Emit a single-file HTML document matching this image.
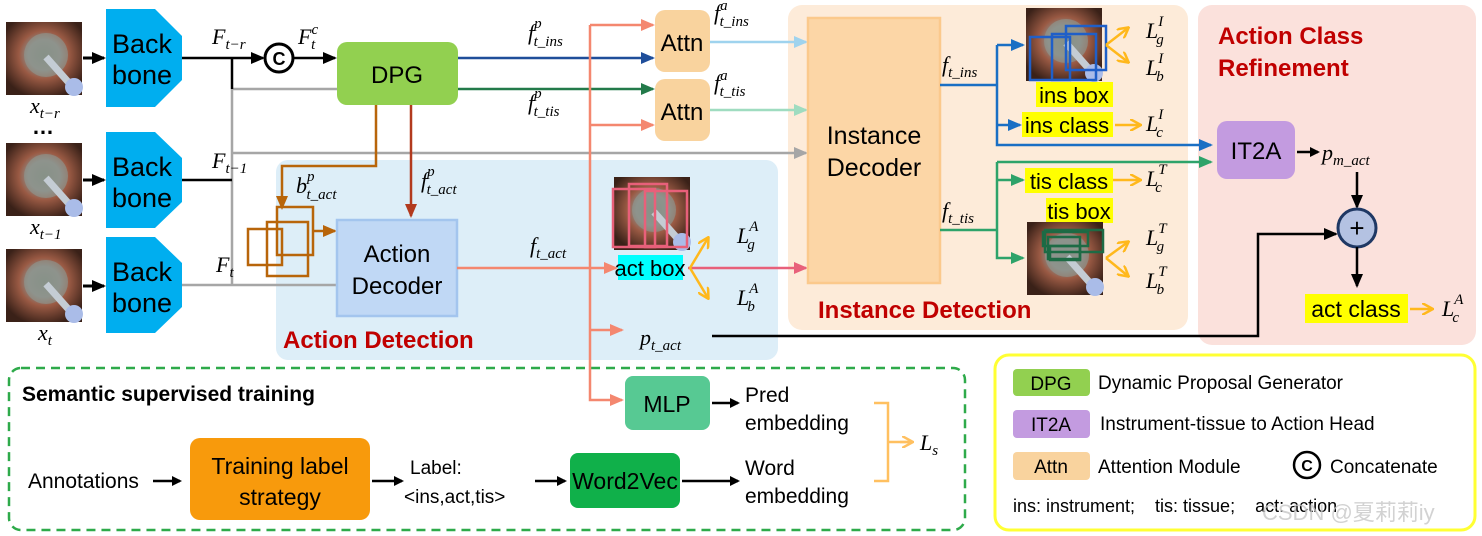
<!DOCTYPE html>
<html><head><meta charset="utf-8"><style>
html,body{margin:0;padding:0;background:#fff;}
svg{display:block;}
.s{font-family:"Liberation Sans",sans-serif;}
.m{font-family:"Liberation Serif",serif;font-style:italic;}
</style></head><body>
<svg width="1482" height="536" viewBox="0 0 1482 536" xmlns="http://www.w3.org/2000/svg">
<defs>
<radialGradient id="eye" cx="0.5" cy="0.45" r="0.6">
<stop offset="0" stop-color="#7d8678"/><stop offset="0.35" stop-color="#8f8a84"/><stop offset="0.55" stop-color="#9a5a44"/><stop offset="1" stop-color="#3a2118"/>
</radialGradient>
<marker id="ak" markerWidth="10" markerHeight="10" refX="8" refY="5" orient="auto" markerUnits="userSpaceOnUse"><path d="M0,0 L10,5 L0,10z" fill="#000"/></marker>
<marker id="ag" markerWidth="14" markerHeight="12" refX="12" refY="6" orient="auto" markerUnits="userSpaceOnUse"><path d="M0,0 L14,6 L0,12z" fill="#a6a6a6"/></marker>
<marker id="asal" markerWidth="14" markerHeight="12" refX="12" refY="6" orient="auto" markerUnits="userSpaceOnUse"><path d="M0,0 L14,6 L0,12z" fill="#f4876f"/></marker>
<marker id="ab" markerWidth="14" markerHeight="12" refX="12" refY="6" orient="auto" markerUnits="userSpaceOnUse"><path d="M0,0 L14,6 L0,12z" fill="#1f4e9a"/></marker>
<marker id="agr" markerWidth="14" markerHeight="12" refX="12" refY="6" orient="auto" markerUnits="userSpaceOnUse"><path d="M0,0 L14,6 L0,12z" fill="#237a4a"/></marker>
<marker id="alb" markerWidth="14" markerHeight="12" refX="12" refY="6" orient="auto" markerUnits="userSpaceOnUse"><path d="M0,0 L14,6 L0,12z" fill="#9fd3ee"/></marker>
<marker id="alg" markerWidth="14" markerHeight="12" refX="12" refY="6" orient="auto" markerUnits="userSpaceOnUse"><path d="M0,0 L14,6 L0,12z" fill="#9fdcc0"/></marker>
<marker id="apk" markerWidth="14" markerHeight="12" refX="12" refY="6" orient="auto" markerUnits="userSpaceOnUse"><path d="M0,0 L14,6 L0,12z" fill="#e8607a"/></marker>
<marker id="abl" markerWidth="14" markerHeight="12" refX="12" refY="6" orient="auto" markerUnits="userSpaceOnUse"><path d="M0,0 L14,6 L0,12z" fill="#1a6fc4"/></marker>
<marker id="agn" markerWidth="14" markerHeight="12" refX="12" refY="6" orient="auto" markerUnits="userSpaceOnUse"><path d="M0,0 L14,6 L0,12z" fill="#2ea36a"/></marker>
<marker id="ao" markerWidth="12" markerHeight="12" refX="10" refY="6" orient="auto" markerUnits="userSpaceOnUse"><path d="M0,0 L11,6 L0,12" fill="none" stroke="#ffb81c" stroke-width="2.5"/></marker>
<marker id="abr" markerWidth="14" markerHeight="12" refX="12" refY="6" orient="auto" markerUnits="userSpaceOnUse"><path d="M0,0 L14,6 L0,12z" fill="#b8650a"/></marker>
<marker id="adr" markerWidth="14" markerHeight="12" refX="12" refY="6" orient="auto" markerUnits="userSpaceOnUse"><path d="M0,0 L14,6 L0,12z" fill="#b23a1e"/></marker>
<marker id="aK" markerWidth="14" markerHeight="12" refX="12" refY="6" orient="auto" markerUnits="userSpaceOnUse"><path d="M0,0 L14,6 L0,12z" fill="#000"/></marker>
<marker id="aly" markerWidth="12" markerHeight="12" refX="10" refY="6" orient="auto" markerUnits="userSpaceOnUse"><path d="M0,0 L11,6 L0,12" fill="none" stroke="#ffc060" stroke-width="2.5"/></marker>
<g id="img"><rect width="76" height="73" fill="url(#eye)"/><circle cx="40" cy="33" r="22" fill="#8d9a92" opacity="0.6"/><path d="M40,35 L64,62" stroke="#c4ccd4" stroke-width="7"/><circle cx="68" cy="65" r="9" fill="#aabce8"/></g>
</defs>

<rect x="276" y="160" width="502" height="200" rx="12" fill="#ddeef8"/>
<rect x="788" y="5" width="400" height="325" rx="14" fill="#fdebd9"/>
<rect x="1198" y="5" width="278" height="340" rx="14" fill="#fbe1dc"/>
<rect x="995" y="355" width="480" height="175" rx="14" fill="#fff" stroke="#ffff33" stroke-width="3"/>
<rect x="9" y="368" width="956" height="162" rx="12" fill="none" stroke="#2eaa4a" stroke-width="2.5" stroke-dasharray="9,6"/>

<use href="#img" x="6" y="22"/><use href="#img" x="6" y="143"/><use href="#img" x="6" y="249"/>
<text class="m" x="30" y="113" font-size="22">x<tspan font-size="15" dy="5">t−r</tspan></text>
<text class="s" x="32" y="134" font-size="22" font-weight="bold">…</text>
<text class="m" x="30" y="234" font-size="22">x<tspan font-size="15" dy="5">t−1</tspan></text>
<text class="m" x="38" y="340" font-size="22">x<tspan font-size="15" dy="5">t</tspan></text>
<g stroke="#000" stroke-width="3"><line x1="83" y1="58" x2="104" y2="58" marker-end="url(#aK)"/><line x1="83" y1="180" x2="104" y2="180" marker-end="url(#aK)"/><line x1="83" y1="286" x2="104" y2="286" marker-end="url(#aK)"/></g>

<g fill="#00aeef">
<path d="M106,9 H155 L182,36 V80 L155,107 H106z"/>
<path d="M106,132 H155 L182,158 V202 L155,228 H106z"/>
<path d="M106,237 H155 L182,263 V307 L155,333 H106z"/>
</g>
<g class="s" font-size="27" fill="#000">
<text x="112" y="53">Back</text><text x="112" y="84">bone</text>
<text x="112" y="176">Back</text><text x="112" y="207">bone</text>
<text x="112" y="281">Back</text><text x="112" y="312">bone</text>
</g>

<g fill="none" stroke-width="2.5">
<path d="M232,89 V285" stroke="#a6a6a6"/>
<path d="M232,89 H384" stroke="#a6a6a6" marker-end="url(#ag)"/>
<path d="M232,153 H806" stroke="#a6a6a6" marker-end="url(#ag)"/>
<path d="M182,285 H384" stroke="#a6a6a6" marker-end="url(#ag)"/>
<path d="M182,58 H263" stroke="#000" marker-end="url(#aK)"/>
<path d="M232,58 V89" stroke="#000"/>
<path d="M182,180 H232" stroke="#000"/>
<path d="M294,58 H335" stroke="#000" marker-end="url(#aK)"/>
</g>
<circle cx="279" cy="58" r="14" fill="#fff" stroke="#000" stroke-width="3"/>
<text class="s" x="279" y="65" font-size="18" font-weight="bold" text-anchor="middle">C</text>
<text class="m" x="212" y="44" font-size="22">F<tspan font-size="15" dy="5">t−r</tspan></text>
<text class="m" x="212" y="168" font-size="22">F<tspan font-size="15" dy="5">t−1</tspan></text>
<text class="m" x="216" y="272" font-size="22">F<tspan font-size="15" dy="5">t</tspan></text>
<text class="m" x="298" y="44" font-size="22">F<tspan font-size="15" dy="-10">c</tspan><tspan font-size="15" dx="-7" dy="15">t</tspan></text>

<rect x="337" y="42" width="121" height="63" rx="10" fill="#92d050"/>
<text class="s" x="397" y="83" font-size="24" text-anchor="middle">DPG</text>
<g fill="none" stroke-width="2.5">
<path d="M458,58 H653" stroke="#1f4e9a" marker-end="url(#ab)"/>
<path d="M458,89 H653" stroke="#237a4a" marker-end="url(#agr)"/>
<path d="M376,105 V166 H282 V208" stroke="#b8650a" marker-end="url(#abr)"/>
<path d="M411,105 V216" stroke="#b23a1e" marker-end="url(#adr)"/>
<path d="M313,231 H335" stroke="#b8650a" marker-end="url(#abr)"/>
</g>
<g fill="none" stroke="#b8650a" stroke-width="2.5">
<rect x="248" y="229" width="34" height="36"/><rect x="267" y="222" width="41" height="54"/><rect x="277" y="207" width="36" height="48"/>
</g>
<text class="m" x="528" y="40" font-size="22">f<tspan font-size="15" dy="-12">p</tspan><tspan font-size="15" dx="-8" dy="18">t_ins</tspan></text>
<text class="m" x="528" y="110" font-size="22">f<tspan font-size="15" dy="-12">p</tspan><tspan font-size="15" dx="-8" dy="18">t_tis</tspan></text>
<text class="m" x="296" y="193" font-size="22">b<tspan font-size="15" dy="-12">p</tspan><tspan font-size="15" dx="-8" dy="18">t_act</tspan></text>
<text class="m" x="421" y="188" font-size="22">f<tspan font-size="15" dy="-12">p</tspan><tspan font-size="15" dx="-8" dy="18">t_act</tspan></text>

<rect x="337" y="220" width="120" height="96" fill="#c0d8f5" stroke="#a3c5ee" stroke-width="2.5"/>
<text class="s" x="397" y="262" font-size="24" text-anchor="middle">Action</text>
<text class="s" x="397" y="294" font-size="24" text-anchor="middle">Decoder</text>
<text class="m" x="530" y="253" font-size="22">f<tspan font-size="15" dy="5">t_act</tspan></text>
<text class="s" x="283" y="348" font-size="24" font-weight="bold" fill="#c00000">Action Detection</text>

<g fill="none" stroke="#f4876f" stroke-width="2.5">
<path d="M457,268 H616" marker-end="url(#asal)"/>
<path d="M590,25 V400 H622" marker-end="url(#asal)"/>
<path d="M590,25 H653" marker-end="url(#asal)"/>
<path d="M590,125 H653" marker-end="url(#asal)"/>
<path d="M590,330 H622" marker-end="url(#asal)"/>
</g>

<rect x="655" y="10" width="55" height="62" rx="10" fill="#f9d39e"/>
<rect x="655" y="79" width="55" height="62" rx="10" fill="#f9d39e"/>
<text class="s" x="682" y="51" font-size="24" text-anchor="middle">Attn</text>
<text class="s" x="682" y="120" font-size="24" text-anchor="middle">Attn</text>
<text class="m" x="714" y="20" font-size="22">f<tspan font-size="15" dy="-10">a</tspan><tspan font-size="15" dx="-8" dy="16">t_ins</tspan></text>
<text class="m" x="714" y="90" font-size="22">f<tspan font-size="15" dy="-10">a</tspan><tspan font-size="15" dx="-8" dy="16">t_tis</tspan></text>
<path d="M710,42 H806" stroke="#9fd3ee" stroke-width="2.5" marker-end="url(#alb)"/>
<path d="M710,110 H806" stroke="#9fdcc0" stroke-width="2.5" marker-end="url(#alg)"/>

<use href="#img" x="614" y="177"/>
<g fill="none" stroke="#e8607a" stroke-width="2.5"><rect x="613" y="189" width="42" height="58"/><rect x="629" y="184" width="38" height="62"/><rect x="645" y="191" width="42" height="56"/></g>
<rect x="618" y="255" width="65" height="25" fill="#00ffff"/>
<text class="s" x="650" y="276" font-size="22" text-anchor="middle">act box</text>
<path d="M688,268 H806" stroke="#e8607a" stroke-width="2.5" marker-end="url(#apk)"/>
<g stroke="#ffb81c" stroke-width="2.5" fill="none">
<path d="M690,268 L708,238" marker-end="url(#ao)"/>
<path d="M690,268 L708,298" marker-end="url(#ao)"/>
</g>
<text class="m" x="737" y="243" font-size="22">L<tspan font-size="15" dy="-12">A</tspan><tspan font-size="15" dx="-11" dy="18">g</tspan></text>
<text class="m" x="737" y="305" font-size="22">L<tspan font-size="15" dy="-12">A</tspan><tspan font-size="15" dx="-11" dy="18">b</tspan></text>
<text class="m" x="640" y="345" font-size="22">p<tspan font-size="15" dy="5">t_act</tspan></text>
<path d="M712,336 H1258 V234 H1336" fill="none" stroke="#000" stroke-width="2.5" marker-end="url(#aK)"/>

<rect x="808" y="18" width="132" height="265" fill="#fcd6a6" stroke="#fbc98c" stroke-width="2.5"/>
<text class="s" x="874" y="144" font-size="25" text-anchor="middle">Instance</text>
<text class="s" x="874" y="176" font-size="25" text-anchor="middle">Decoder</text>
<text class="s" x="818" y="318" font-size="24" font-weight="bold" fill="#c00000">Instance Detection</text>

<g fill="none" stroke="#1a6fc4" stroke-width="2.5">
<path d="M940,85 H997"/><path d="M997,45 V145 H1211" marker-end="url(#abl)"/>
<path d="M997,45 H1023" marker-end="url(#abl)"/><path d="M997,125 H1020" marker-end="url(#abl)"/>
</g>
<g fill="none" stroke="#2ea36a" stroke-width="2.5">
<path d="M940,230 H997"/><path d="M997,162 V258 H1023" marker-end="url(#agn)"/>
<path d="M997,162 H1211" marker-end="url(#agn)"/><path d="M997,180 H1023" marker-end="url(#agn)"/>
</g>
<text class="m" x="942" y="72" font-size="22">f<tspan font-size="15" dy="5">t_ins</tspan></text>
<text class="m" x="942" y="218" font-size="22">f<tspan font-size="15" dy="5">t_tis</tspan></text>

<use href="#img" x="1026" y="8"/>
<g fill="none" stroke="#1f5fc8" stroke-width="2.5"><rect x="1030" y="37" width="40" height="43"/><rect x="1052" y="34" width="44" height="46"/><rect x="1066" y="26" width="40" height="44"/></g>
<rect x="1036" y="82" width="77" height="25" fill="#ffff00"/>
<text class="s" x="1074" y="103" font-size="22" text-anchor="middle">ins box</text>
<rect x="1022" y="112" width="91" height="25" fill="#ffff00"/>
<text class="s" x="1067" y="133" font-size="22" text-anchor="middle">ins class</text>
<rect x="1025" y="168" width="88" height="25" fill="#ffff00"/>
<text class="s" x="1069" y="189" font-size="22" text-anchor="middle">tis class</text>
<rect x="1046" y="198" width="67" height="25" fill="#ffff00"/>
<text class="s" x="1079" y="219" font-size="22" text-anchor="middle">tis box</text>
<use href="#img" x="1027" y="222"/>
<g fill="none" stroke="#1d6b45" stroke-width="2.5"><rect x="1043" y="232" width="45" height="14"/><rect x="1048" y="237" width="32" height="22"/><rect x="1045" y="230" width="58" height="22"/><rect x="1050" y="246" width="30" height="14"/></g>

<g stroke="#ffb81c" stroke-width="2.5" fill="none">
<path d="M1106,45 L1128,28" marker-end="url(#ao)"/>
<path d="M1106,45 L1128,62" marker-end="url(#ao)"/>
<path d="M1106,258 L1128,242" marker-end="url(#ao)"/>
<path d="M1106,258 L1128,276" marker-end="url(#ao)"/>
<path d="M1115,125 H1140" marker-end="url(#ao)"/>
<path d="M1113,180 H1140" marker-end="url(#ao)"/>
<path d="M1410,309 H1432" marker-end="url(#ao)"/>
</g>
<text class="m" x="1146" y="38" font-size="22">L<tspan font-size="15" dy="-12">I</tspan><tspan font-size="15" dx="-7" dy="18">g</tspan></text>
<text class="m" x="1146" y="75" font-size="22">L<tspan font-size="15" dy="-12">I</tspan><tspan font-size="15" dx="-7" dy="18">b</tspan></text>
<text class="m" x="1146" y="131" font-size="22">L<tspan font-size="15" dy="-12">I</tspan><tspan font-size="15" dx="-7" dy="18">c</tspan></text>
<text class="m" x="1146" y="186" font-size="22">L<tspan font-size="15" dy="-12">T</tspan><tspan font-size="15" dx="-10" dy="18">c</tspan></text>
<text class="m" x="1146" y="245" font-size="22">L<tspan font-size="15" dy="-12">T</tspan><tspan font-size="15" dx="-10" dy="18">g</tspan></text>
<text class="m" x="1146" y="288" font-size="22">L<tspan font-size="15" dy="-12">T</tspan><tspan font-size="15" dx="-10" dy="18">b</tspan></text>

<text class="s" x="1218" y="44" font-size="24" font-weight="bold" fill="#c00000">Action Class</text>
<text class="s" x="1218" y="76" font-size="24" font-weight="bold" fill="#c00000">Refinement</text>
<rect x="1217" y="121" width="78" height="58" rx="10" fill="#c39be0"/>
<text class="s" x="1256" y="159" font-size="24" text-anchor="middle">IT2A</text>
<path d="M1297,152 H1318" stroke="#000" stroke-width="2.5" marker-end="url(#ak)"/>
<text class="m" x="1322" y="160" font-size="22">p<tspan font-size="15" dy="5">m_act</tspan></text>
<path d="M1357,172 V207" stroke="#000" stroke-width="2.5" marker-end="url(#aK)"/>
<circle cx="1357" cy="228" r="19" fill="#b4c2e2" stroke="#1f3864" stroke-width="3"/>
<text class="s" x="1357" y="237" font-size="26" text-anchor="middle">+</text>
<path d="M1357,247 V286" stroke="#000" stroke-width="2.5" marker-end="url(#aK)"/>
<rect x="1305" y="294" width="103" height="29" fill="#ffff00"/>
<text class="s" x="1356" y="317" font-size="23" text-anchor="middle">act class</text>
<text class="m" x="1442" y="316" font-size="22">L<tspan font-size="15" dy="-12">A</tspan><tspan font-size="15" dx="-11" dy="18">c</tspan></text>

<rect x="1013" y="369" width="77" height="27" rx="4" fill="#92d050"/>
<text class="s" x="1051" y="390" font-size="19" text-anchor="middle">DPG</text>
<text class="s" x="1098" y="389" font-size="19">Dynamic Proposal Generator</text>
<rect x="1013" y="410" width="77" height="28" rx="4" fill="#c39be0"/>
<text class="s" x="1051" y="431" font-size="19" text-anchor="middle">IT2A</text>
<text class="s" x="1100" y="430" font-size="19">Instrument-tissue to Action Head</text>
<rect x="1013" y="452" width="77" height="28" rx="4" fill="#f9d39e"/>
<text class="s" x="1051" y="473" font-size="19" text-anchor="middle">Attn</text>
<text class="s" x="1098" y="473" font-size="19">Attention Module</text>
<circle cx="1307" cy="465" r="13" fill="#fff" stroke="#000" stroke-width="2.5"/>
<text class="s" x="1307" y="471" font-size="16" font-weight="bold" text-anchor="middle">C</text>
<text class="s" x="1330" y="473" font-size="19">Concatenate</text>
<text class="s" x="1013" y="512" font-size="18" xml:space="preserve">ins: instrument;    tis: tissue;    act: action</text>
<text class="s" x="1262" y="520" font-size="22" fill="#c8c8c8" opacity="0.8" style="font-family:'Liberation Sans','Noto Sans CJK SC',sans-serif">CSDN @夏莉莉iy</text>

<text class="s" x="22" y="401" font-size="21" font-weight="bold">Semantic supervised training</text>
<rect x="625" y="376" width="85" height="54" rx="8" fill="#57c993"/>
<text class="s" x="667" y="412" font-size="23" text-anchor="middle">MLP</text>
<path d="M712,403 H738" stroke="#000" stroke-width="2.5" marker-end="url(#ak)"/>
<text class="s" x="745" y="402" font-size="21">Pred</text>
<text class="s" x="745" y="430" font-size="21">embedding</text>
<text class="s" x="28" y="488" font-size="21">Annotations</text>
<path d="M153,481 H180" stroke="#000" stroke-width="2.5" marker-end="url(#ak)"/>
<rect x="190" y="438" width="180" height="82" rx="10" fill="#f89a0c"/>
<text class="s" x="280" y="474" font-size="23" text-anchor="middle">Training label</text>
<text class="s" x="280" y="505" font-size="23" text-anchor="middle">strategy</text>
<path d="M372,481 H402" stroke="#000" stroke-width="2.5" marker-end="url(#ak)"/>
<text class="s" x="410" y="474" font-size="19">Label:</text>
<text class="s" x="404" y="503" font-size="19">&lt;ins,act,tis&gt;</text>
<path d="M535,481 H565" stroke="#000" stroke-width="2.5" marker-end="url(#ak)"/>
<rect x="570" y="453" width="110" height="55" rx="8" fill="#10b04a"/>
<text class="s" x="625" y="489" font-size="23" text-anchor="middle">Word2Vec</text>
<path d="M682,481 H738" stroke="#000" stroke-width="2.5" marker-end="url(#ak)"/>
<text class="s" x="745" y="475" font-size="21">Word</text>
<text class="s" x="745" y="503" font-size="21">embedding</text>
<path d="M874,403 H888 V481 H874 M888,442 H910" fill="none" stroke="#ffc060" stroke-width="2.5"/>
<path d="M900,442 H912" stroke="#ffc060" stroke-width="2.5" marker-end="url(#aly)"/>
<text class="m" x="920" y="450" font-size="22">L<tspan font-size="15" dy="5">s</tspan></text>
</svg>
</body></html>
